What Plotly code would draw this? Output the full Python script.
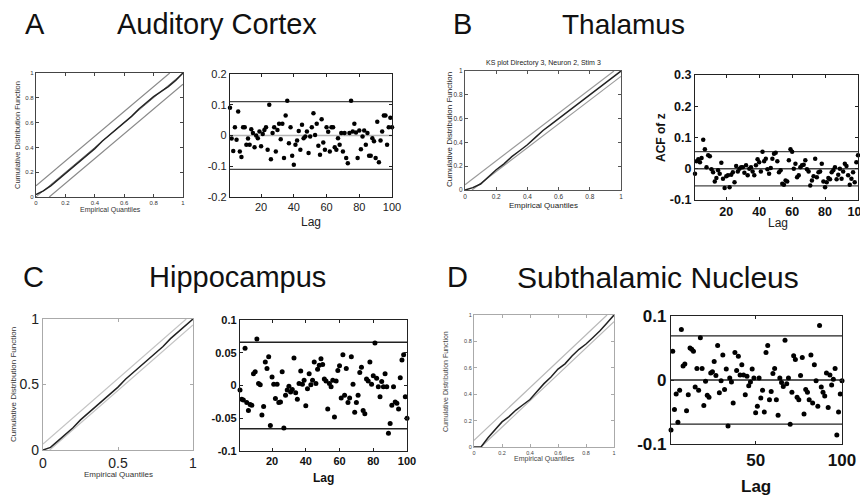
import numpy as np
import plotly.graph_objects as go

W, H = 868, 496
OFF = 8  # the page body adds an 8px margin; the figure fills the rest
FW, FH = W - OFF, H - OFF

# ---------------- data ----------------
ks_quantiles = [0, 0.05, 0.1, 0.15, 0.2, 0.25, 0.3, 0.35, 0.4, 0.45, 0.5,
                0.55, 0.6, 0.65, 0.7, 0.75, 0.8, 0.85, 0.9, 0.95, 1.0]
ks_A = [0.02, 0.05, 0.09, 0.14, 0.19, 0.24, 0.29, 0.34, 0.39, 0.45, 0.50,
        0.55, 0.60, 0.65, 0.71, 0.76, 0.81, 0.85, 0.89, 0.94, 1.0]
ks_B = [0.0, 0.02, 0.05, 0.11, 0.17, 0.22, 0.28, 0.33, 0.38, 0.44, 0.50,
        0.55, 0.60, 0.65, 0.70, 0.75, 0.80, 0.85, 0.90, 0.95, 1.0]
ks_C = [0.0, 0.02, 0.07, 0.12, 0.17, 0.23, 0.28, 0.33, 0.38, 0.43, 0.48,
        0.54, 0.59, 0.64, 0.69, 0.74, 0.79, 0.85, 0.90, 0.95, 1.0]
ks_D = [0.0, 0.0, 0.07, 0.13, 0.19, 0.23, 0.28, 0.32, 0.36, 0.42, 0.48,
        0.53, 0.59, 0.63, 0.69, 0.74, 0.78, 0.83, 0.88, 0.94, 1.0]
ks_bound_A = 0.09
ks_bound_B = 0.045
ks_bound_C = 0.045
ks_bound_D = 0.05

lags = list(range(1, 101))
acf_A = [0.09, -0.01, -0.05, 0.027, -0.014, 0.078, -0.052, -0.07, 0.027, 0.027,
         -0.03, -0.01, -0.03, 0.02, 0.008, -0.038, 0.0, -0.009, 0.013, -0.035,
         0.005, 0.018, 0.027, -0.046, 0.1, -0.077, 0.008, 0.027, -0.052, 0.018,
         0.038, -0.012, 0.038, -0.073, 0.065, 0.113, -0.025, 0.027, -0.066, -0.095,
         -0.03, -0.016, 0.015, -0.046, 0.035, -0.009, -0.003, 0.013, -0.057, -0.003,
         0.027, 0.072, 0.002, 0.038, -0.033, -0.063, 0.053, -0.023, -0.046, 0.027,
         0.012, -0.052, 0.027, 0.027, -0.038, -0.046, -0.009, -0.03, 0.008, -0.052,
         0.008, -0.073, -0.09, 0.008, 0.113, 0.013, 0.038, 0.01, -0.073, 0.016,
         -0.045, -0.003, 0.016, -0.03, 0.008, -0.066, -0.066, -0.009, -0.019, -0.073,
         0.045, -0.087, -0.016, 0.013, 0.065, 0.065, -0.03, 0.027, 0.058, 0.027]
acf_B = [-0.016, 0.024, 0.03, 0.021, 0.034, 0.093, 0.062, 0.005, 0.043, 0.04,
         -0.002, -0.011, -0.041, -0.03, -0.005, -0.016, 0.019, -0.032, -0.062, -0.024,
         -0.021, -0.059, -0.019, -0.011, -0.043, 0.009, -0.009, 0.0, 0.005, 0.005,
         -0.013, 0.011, -0.021, 0.0, 0.005, -0.009, -0.021, 0.011, 0.03, 0.021,
         -0.009, 0.054, 0.024, 0.032, -0.002, -0.016, 0.002, 0.032, 0.048, 0.051,
         0.024, -0.011, -0.005, -0.048, -0.051, -0.038, -0.041, 0.027, 0.062, 0.054,
         0.0, 0.016, -0.027, -0.021, 0.005, 0.011, 0.013, 0.027, -0.002, -0.009,
         -0.054, -0.038, -0.024, 0.032, -0.027, -0.011, -0.009, 0.016, -0.041, -0.059,
         -0.043, -0.03, -0.034, -0.011, -0.005, 0.005, -0.034, -0.019, 0.0, -0.032,
         -0.009, 0.016, 0.009, -0.021, -0.051, -0.032, -0.011, -0.043, 0.021, 0.043]
acf_C = [-0.007, -0.021, -0.022, 0.057, -0.026, -0.038, -0.029, -0.03, 0.018, 0.021,
         0.071, 0.003, 0.001, -0.045, -0.032, 0.036, 0.026, 0.044, -0.061, 0.013,
         0.002, -0.02, 0.002, -0.026, -0.025, 0.021, -0.065, -0.015, -0.007, -0.001,
         -0.01, -0.006, 0.042, -0.011, -0.021, 0.003, 0.022, 0.002, 0.008, -0.031,
         -0.005, 0.018, 0.001, 0.008, 0.036, 0.003, 0.025, 0.031, 0.041, 0.032,
         0.01, 0.007, -0.036, 0.003, -0.002, 0.008, -0.048, 0.007, 0.023, 0.03,
         -0.019, 0.047, -0.015, 0.026, -0.026, -0.019, 0.044, 0.002, -0.041, -0.026,
         -0.015, 0.02, 0.028, -0.038, -0.043, 0.01, 0.007, 0.036, 0.002, 0.015,
         0.065, 0.011, -0.002, -0.017, 0.006, -0.002, 0.018, -0.002, -0.073, -0.058,
         -0.03, -0.002, -0.025, -0.027, -0.036, 0.012, 0.039, 0.047, -0.017, -0.05]
acf_D = [-0.078, 0.045, -0.046, -0.022, -0.066, -0.016, 0.079, 0.022, 0.025, -0.048,
         -0.023, 0.05, 0.048, 0.045, -0.011, 0.018, -0.016, 0.066, 0.018, -0.04,
         -0.002, -0.024, -0.027, 0.011, 0.013, 0.029, 0.007, 0.054, -0.02, -0.001,
         0.039, -0.015, 0.017, -0.072, 0.003, -0.003, -0.036, 0.043, 0.015, 0.037,
         0.008, 0.024, 0.008, -0.023, 0.006, -0.009, -0.003, 0.017, 0.003, -0.051,
         -0.041, 0.003, -0.028, -0.016, -0.05, 0.043, 0.054, -0.031, -0.018, 0.01,
         0.018, -0.031, -0.055, 0.003, -0.004, -0.01, 0.062, -0.006, 0.003, -0.069,
         -0.019, 0.038, 0.032, -0.027, -0.031, 0.007, 0.035, -0.053, -0.015, -0.019,
         -0.031, 0.039, -0.036, 0.024, -0.001, -0.041, 0.085, -0.011, -0.019, -0.025,
         0.011, -0.043, 0.008, -0.008, 0.001, 0.018, -0.086, -0.05, -0.022, -0.001]
acf_bound_A = 0.11
acf_bound_B = 0.055
acf_bound_C = 0.066
acf_bound_D = 0.069

ks_ticks_fine = [0, 0.2, 0.4, 0.6, 0.8, 1]
ks_ticklabels_fine = ["0", "0.2", "0.4", "0.6", "0.8", "1"]
ks_ticks_coarse = [0, 0.5, 1]
ks_ticklabels_coarse = ["0", "0.5", "1"]

panel_titles = [("A", "Auditory Cortex"), ("B", "Thalamus"),
                ("C", "Hippocampus"), ("D", "Subthalamic Nucleus")]

FONT = "Liberation Sans, Arial, sans-serif"

# ---------------- figure ----------------
fig = go.Figure()
layout = dict(width=FW, height=FH, margin=dict(l=0, r=0, t=0, b=0, pad=0),
              template="none", autosize=False,
              paper_bgcolor="white", plot_bgcolor="white", showlegend=False,
              font=dict(family=FONT, color="#111"))


def px_x(x):
    return (x - OFF) / FW


def px_y(y):
    return 1 - (y - OFF) / FH


def add_axes(i, box, xr, yr, xt, xtl, yt, ytl, font, linecolor, tickcolor=None):
    x0, y0, x1, y1 = box
    sfx = "" if i == 1 else str(i)
    tc = tickcolor or linecolor
    common = dict(showline=True, mirror="ticks", linecolor=linecolor, linewidth=1.3,
                  ticks="inside", ticklen=3, tickcolor=tc, showgrid=False,
                  zeroline=False, tickfont=font, fixedrange=True, automargin=False,
                  ticklabeloverflow="allow")
    layout["xaxis" + sfx] = dict(domain=[px_x(x0), px_x(x1)], range=xr, anchor="y" + sfx,
                                 tickmode="array", tickvals=xt, ticktext=xtl, **common)
    layout["yaxis" + sfx] = dict(domain=[px_y(y1), px_y(y0)], range=yr, anchor="x" + sfx,
                                 tickmode="array", tickvals=yt, ticktext=ytl, **common)
    return ("x" + sfx, "y" + sfx)


def ks_panel(i, box, curve, bound, font, linecolor, boundcolor, diag=False, ticks="fine"):
    if ticks == "fine":
        t, tl = ks_ticks_fine, ks_ticklabels_fine
    else:
        t, tl = ks_ticks_coarse, ks_ticklabels_coarse
    xa, ya = add_axes(i, box, [0, 1], [0, 1], t, tl, t, tl, font, linecolor)
    up_x = np.array([0, 1 - bound])
    lo_x = np.array([bound, 1])
    fig.add_trace(go.Scatter(x=up_x, y=up_x + bound, mode="lines", xaxis=xa, yaxis=ya,
                             line=dict(color=boundcolor, width=1.2), hoverinfo="skip"))
    fig.add_trace(go.Scatter(x=lo_x, y=lo_x - bound, mode="lines", xaxis=xa, yaxis=ya,
                             line=dict(color=boundcolor, width=1.2), hoverinfo="skip"))
    if diag:
        fig.add_trace(go.Scatter(x=[0, 1], y=[0, 1], mode="lines", xaxis=xa, yaxis=ya,
                                 line=dict(color=boundcolor, width=1.0), hoverinfo="skip"))
    fig.add_trace(go.Scatter(x=ks_quantiles, y=curve, mode="lines", xaxis=xa, yaxis=ya,
                             line=dict(color="#222", width=1.5), hoverinfo="skip"))


def acf_panel(i, box, vals, bound, yr, yt, ytl, xt, xtl, font, msize,
              zerocolor, boundcolor, linecolor="#222"):
    xa, ya = add_axes(i, box, [1, 100], yr, xt, xtl, yt, ytl, font, linecolor)
    for yv, col in ((bound, boundcolor), (-bound, boundcolor)):
        fig.add_trace(go.Scatter(x=[1, 100], y=[yv, yv], mode="lines", xaxis=xa, yaxis=ya,
                                 line=dict(color=col, width=1.3), hoverinfo="skip"))
    if zerocolor:
        fig.add_trace(go.Scatter(x=[1, 100], y=[0, 0], mode="lines", xaxis=xa, yaxis=ya,
                                 line=dict(color=zerocolor, width=1.3), hoverinfo="skip"))
    fig.add_trace(go.Scatter(x=lags, y=vals, mode="markers", xaxis=xa, yaxis=ya,
                             marker=dict(color="black", size=msize), cliponaxis=False,
                             hoverinfo="skip"))


small = dict(family=FONT, size=6, color="#333")
lag_ticks = [20, 40, 60, 80, 100]
lag_labels = ["20", "40", "60", "80", "100"]

# Panel A
ks_panel(1, (36, 73, 183, 197), ks_A, ks_bound_A, small, "#444", "#8a8a8a", diag=True)
acf_panel(2, (230, 74, 392, 197), acf_A, acf_bound_A, [-0.2, 0.2],
          [-0.2, -0.1, 0, 0.1, 0.2], ["-0.2", "-0.1", "0", "0.1", "0.2"],
          lag_ticks, lag_labels, dict(family=FONT, size=11, color="#222"), 4.5,
          "#b5b5b5", "#444")
# Panel B
ks_panel(3, (465, 71, 621, 190), ks_B, ks_bound_B, dict(family=FONT, size=6.5, color="#333"),
         "#555", "#9a9a9a")
acf_panel(4, (695, 75, 858, 200), acf_B, acf_bound_B, [-0.1, 0.3],
          [-0.1, 0, 0.1, 0.2, 0.3], ["-0.1", "0", "0.1", "0.2", "0.3"],
          lag_ticks, lag_labels, dict(family=FONT, size=12.5, color="#111", weight="bold"), 4.5,
          "#444", "#444")
# Panel C
ks_panel(5, (43, 319, 193, 450), ks_C, ks_bound_C, dict(family=FONT, size=14, color="#222"),
         "#aaaaaa", "#c4c4c4", ticks="coarse")
acf_panel(6, (240, 320, 407, 451), acf_C, acf_bound_C, [-0.1, 0.1],
          [-0.1, -0.05, 0, 0.05, 0.1], ["-0.1", "-0.05", "0", "0.05", "0.1"],
          lag_ticks, lag_labels, dict(family=FONT, size=11, color="#111", weight="bold"), 5,
          None, "#222")
# Panel D
ks_panel(7, (474, 315, 614, 447), ks_D, ks_bound_D, dict(family=FONT, size=5.5, color="#444"),
         "#aaaaaa", "#b8b8b8")
acf_panel(8, (671, 316, 842, 444), acf_D, acf_bound_D, [-0.1, 0.1],
          [-0.1, 0, 0.1], ["-0.1", "0", "0.1"],
          [50, 100], ["50", "100"], dict(family=FONT, size=17, color="#111", weight="bold"), 5,
          "#222", "#222")

ann = []


def txt(x, y, s, size, bold=False, angle=0, color="#111", xanchor="center"):
    ann.append(dict(x=px_x(x), y=px_y(y), xref="paper", yref="paper", text=s,
                    showarrow=False, textangle=angle, xanchor=xanchor, yanchor="middle",
                    font=dict(family=FONT, size=size, color=color,
                              weight="bold" if bold else "normal")))


# panel titles
title_pos = [((35, 24), (217, 24), 29), ((462, 24), (623, 24), 28),
             ((33, 277), (237, 277), 29), ((457, 277), (658, 277), 30)]
for (letter, name), ((lx, ly), (nx, ny), fs) in zip(panel_titles, title_pos):
    txt(lx, ly, letter, 29)
    txt(nx, ny, name, fs)

# axis labels
txt(18, 135, "Cumulative Distribution Function", 7.5, angle=-90, color="#333")
txt(110, 210, "Empirical Quantiles", 7, color="#333")
txt(311, 222, "Lag", 12, color="#222")

txt(543, 63, "KS plot Directory 3, Neuron 2, Stim 3", 7, color="#222")
txt(449, 130, "Cumulative Distribution Function", 8, angle=-90, color="#222")
txt(543, 205, "Empirical Quantiles", 8, color="#222")
txt(661, 138, "ACF of z", 12, bold=True, angle=-90)
txt(778, 223, "Lag", 12, color="#222")

txt(13, 385, "Cumulative Distribution Function", 8, angle=-90, color="#333")
txt(118, 474, "Empirical Quantiles", 8, color="#333")
txt(323, 478, "Lag", 12, bold=True)

txt(445, 381, "Cumulative Distribution Function", 7, angle=-90, color="#444")
txt(544, 459, "Empirical Quantiles", 7, color="#444")
txt(756, 486, "Lag", 17, bold=True)

layout["annotations"] = ann
fig.update_layout(**layout)
fig.write_html("out.html")
